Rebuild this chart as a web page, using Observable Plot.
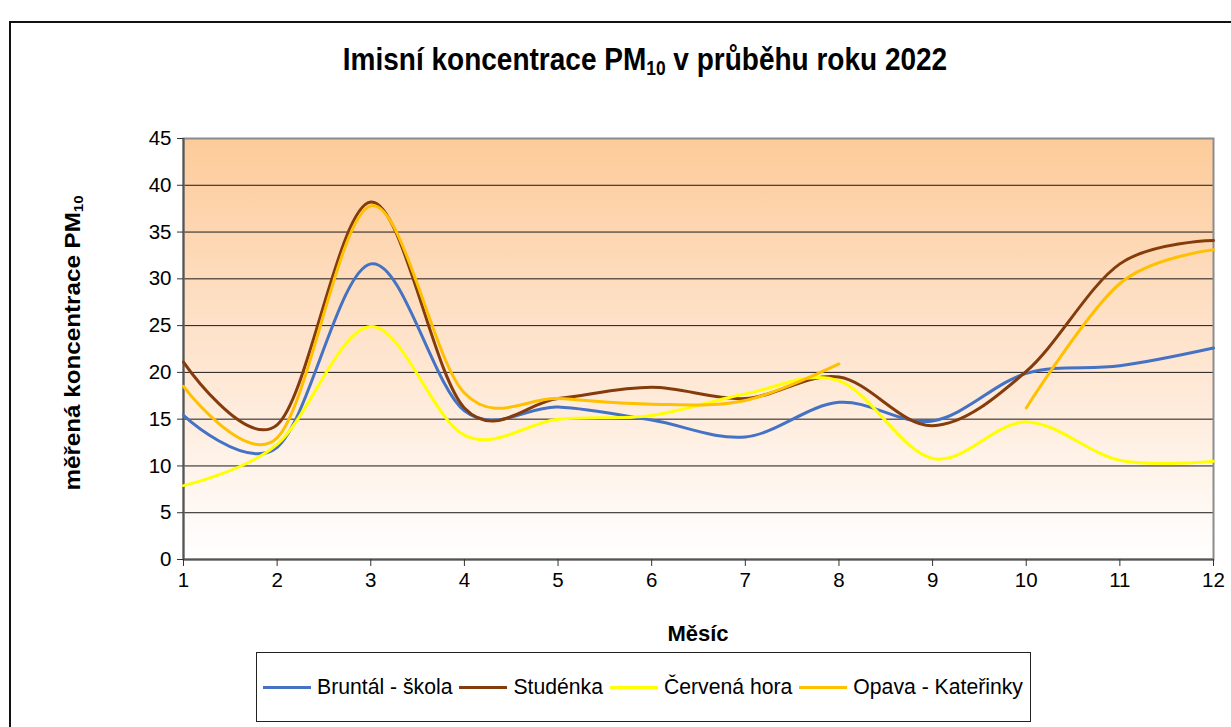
<!DOCTYPE html>
<html>
<head>
<meta charset="utf-8">
<script src="https://cdn.jsdelivr.net/npm/d3@7"></script>
<script src="https://cdn.jsdelivr.net/npm/@observablehq/plot@0.6"></script>
<style>
  html, body { margin: 0; padding: 0; background: #fff; }
  #wrap { position: relative; width: 1231px; height: 727px; overflow: hidden; background: #fff;
          font-family: "Liberation Sans", Arial, sans-serif; color: #000; }
  #border { position: absolute; left: 9px; top: 21px; width: 1300px; height: 900px; border: 2px solid #111; box-sizing: border-box; }
  #chart { position: absolute; left: 0; top: 0; }
  #title { position: absolute; left: 645px; top: 42px; transform: translateX(-50%) scaleY(1.12); transform-origin: 50% 0;
           white-space: nowrap; font-weight: bold; font-size: 28px; }
  #title sub, #ylabel sub { font-size: 62%; vertical-align: -0.25em; }
  #ylabel { position: absolute; left: 73px; top: 343px; transform: translate(-50%, -50%) rotate(-90deg) scaleX(1.1);
            white-space: nowrap; font-weight: bold; font-size: 22px; }
  #xlabel { position: absolute; left: 698px; top: 621px; transform: translateX(-50%); font-weight: bold; font-size: 22px; }
  #legend { position: absolute; left: 256px; top: 652px; width: 775px; height: 70px; box-sizing: border-box;
            border: 1.5px solid #222; display: flex; align-items: center; padding-left: 6px; font-size: 21.2px; white-space: nowrap; }
  .item { display: flex; align-items: center; margin-right: 7px; flex-shrink: 0; }
  .swatch { width: 48px; height: 3px; margin-right: 6px; flex-shrink: 0; }
</style>
</head>
<body>
<div id="wrap">
  <div id="border"></div>
  <div id="chart"></div>
  <div id="title">Imisní koncentrace PM<sub>10</sub> v průběhu roku 2022</div>
  <div id="ylabel">měřená koncentrace PM<sub>10</sub></div>
  <div id="xlabel">Měsíc</div>
  <div id="legend"></div>
</div>
<script>
// ---- data ----
const months = [1, 2, 3, 4, 5, 6, 7, 8, 9, 10, 11, 12];
const seriesNames = ["Bruntál - škola", "Studénka", "Červená hora", "Opava - Kateřinky"];
const seriesColors = ["#4472C4", "#843C0C", "#FFFF00", "#FFC000"];
const bruntal  = [15.4, 12.0, 31.6, 15.9, 16.3, 14.9, 13.1, 16.8, 14.8, 19.9, 20.7, 22.6];
const studenka = [21.1, 14.4, 38.2, 16.2, 17.2, 18.4, 17.2, 19.5, 14.3, 20.1, 31.6, 34.1];
const cervena  = [7.9, 12.3, 24.9, 13.3, 15.0, 15.4, 17.7, 19.1, 10.8, 14.7, 10.6, 10.5];
const opava    = [18.5, 13.0, 37.8, 17.8, 17.2, 16.6, 17.0, 20.9, null, 16.2, 29.5, 33.1];
const yTicks = [0, 5, 10, 15, 20, 25, 30, 35, 40, 45];
const gridValues = [5, 10, 15, 20, 25, 30, 35, 40];

const allSeries = [bruntal, studenka, cervena, opava];
const tables = allSeries.map((vals, i) => months.map((m, j) => ({month: m, value: vals[j], series: seriesNames[i]})));

// background gradient mark
function background(index, scales, values, dims) {
  const g = d3.create("svg:g");
  const grad = g.append("defs").append("linearGradient")
    .attr("id", "bgGrad").attr("x1", 0).attr("y1", 0).attr("x2", 0).attr("y2", 1);
  grad.append("stop").attr("offset", "0%").attr("stop-color", "#FDCB9A");
  grad.append("stop").attr("offset", "50%").attr("stop-color", "#FEE4CE");
  grad.append("stop").attr("offset", "100%").attr("stop-color", "#FFFFFF");
  g.append("rect")
    .attr("x", dims.marginLeft).attr("y", dims.marginTop)
    .attr("width", dims.width - dims.marginLeft - dims.marginRight)
    .attr("height", dims.height - dims.marginTop - dims.marginBottom)
    .attr("fill", "url(#bgGrad)");
  return g.node();
}

const chart = Plot.plot({
  width: 1231,
  height: 640,
  marginLeft: 183,
  marginRight: 18,
  marginTop: 138,
  marginBottom: 81,
  style: {fontFamily: "'Liberation Sans', Arial, sans-serif", fontSize: "20px", background: "transparent", color: "#000"},
  x: {domain: [1, 12], ticks: months, label: null},
  y: {domain: [0, 45], ticks: yTicks, label: null},
  marks: [
    background,
    Plot.ruleY(gridValues, {stroke: "#1a1a1a", strokeWidth: 1}),
    Plot.frame({stroke: "#8c8c8c", strokeWidth: 2}),
    Plot.ruleX([1], {stroke: "#555", strokeWidth: 2}),
    Plot.ruleY([0], {stroke: "#555", strokeWidth: 2}),
    Plot.axisY({ticks: yTicks, tickSize: 6, tickPadding: 6, fontSize: 20.5, stroke: "#333", label: null}),
    Plot.axisX({ticks: months, tickSize: 7, tickPadding: 6, fontSize: 20.5, stroke: "#333", label: null}),
    ...tables.map((t, i) => Plot.line(t, {x: "month", y: "value", stroke: seriesColors[i], strokeWidth: 3, curve: "cardinal", tension: 0}))
  ]
});
document.getElementById("chart").appendChild(chart);

// legend
const legend = document.getElementById("legend");
seriesNames.forEach((name, i) => {
  const item = document.createElement("div");
  item.className = "item";
  const sw = document.createElement("div");
  sw.className = "swatch";
  sw.style.background = seriesColors[i];
  const tx = document.createElement("span");
  tx.textContent = name;
  item.appendChild(sw); item.appendChild(tx);
  legend.appendChild(item);
});
</script>
</body>
</html>
